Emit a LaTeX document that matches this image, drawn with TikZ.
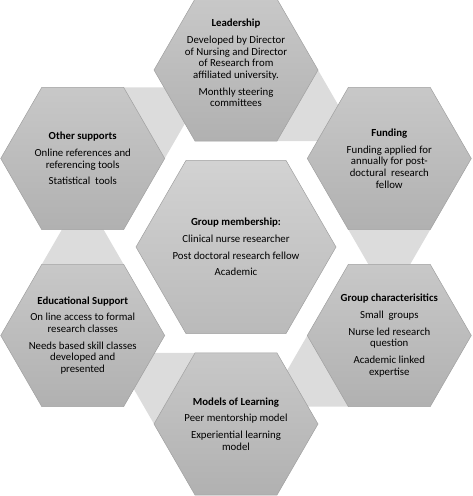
\documentclass[tikz,border=0pt]{standalone}
\usepackage{fontspec}
\setmainfont{Carlito}
\usetikzlibrary{shapes.geometric,calc}
\definecolor{hexgray}{HTML}{BABABA}
\definecolor{hexline}{HTML}{A0A0A0}
\definecolor{linkgray}{HTML}{DCDCDC}

\begin{document}
\begin{tikzpicture}[
  x=1pt, y=1pt,
  hexo/.style = {regular polygon, regular polygon sides=6,
                 minimum size=164pt, inner sep=0pt, outer sep=0pt,
                 draw=hexline, line width=0.5pt,
                 top color=hexgray!80!white, bottom color=hexgray!95!black},
  hub/.style  = {hexo, minimum size=200pt,
                 top color=hexgray!65!white, bottom color=hexgray},
  link/.style = {fill=linkgray},
  txt/.style  = {align=center, inner sep=0pt,
                 font=\fontsize{10.8}{11.7}\selectfont, text=black},
]
\useasboundingbox (0,0) rectangle (473,496);

% positions of the seven hexagons
\coordinate (c) at (236,249);
\coordinate (p1) at ($(c)+(90:177)$);
\coordinate (p2) at ($(c)+(30:177)$);
\coordinate (p3) at ($(c)+(-30:177)$);
\coordinate (p4) at ($(c)+(-90:177)$);
\coordinate (p5) at ($(c)+(-150:177)$);
\coordinate (p6) at ($(c)+(150:177)$);

% light connectors behind the ring
\fill[link] ($(p1)+(0:82)$)    -- ($(p1)+(-60:82)$)  -- ($(p1)+(-30:142)$)  -- cycle;
\fill[link] ($(p2)+(-60:82)$)  -- ($(p2)+(-120:82)$) -- ($(p2)+(-90:142)$)  -- cycle;
\fill[link] ($(p3)+(-120:82)$) -- ($(p3)+(180:82)$)  -- ($(p3)+(-150:142)$) -- cycle;
\fill[link] ($(p4)+(180:82)$)  -- ($(p4)+(120:82)$)  -- ($(p4)+(150:142)$)  -- cycle;
\fill[link] ($(p5)+(120:82)$)  -- ($(p5)+(60:82)$)   -- ($(p5)+(90:142)$)   -- cycle;
\fill[link] ($(p6)+(60:82)$)   -- ($(p6)+(0:82)$)    -- ($(p6)+(30:142)$)   -- cycle;

% hexagons
\node[hub]  (members) at (c)  {};
\node[hexo] (lead)    at (p1) {};
\node[hexo] (fund)    at (p2) {};
\node[hexo] (chars)   at (p3) {};
\node[hexo] (models)  at (p4) {};
\node[hexo] (edu)     at (p5) {};
\node[hexo] (other)   at (p6) {};

% texts
\node[txt] (memberstxt) at (members)
  {\textbf{Group membership:}\\[5pt]
   Clinical nurse researcher\\[5pt]
   Post doctoral research fellow\\[5pt]
   Academic};
\node[txt, yshift=7pt] (leadtxt) at (lead)
  {\textbf{Leadership}\\[5pt]
   Developed by Director\\ of Nursing and Director\\
   of Research from\\ affiliated university.\\[5pt]
   Monthly steering\\ committees};
\node[txt] (fundtxt) at (fund)
  {\textbf{Funding}\\[5pt]
   Funding applied for\\ annually for post-\\
   doctural~ research\\ fellow};
\node[txt] (charstxt) at (chars)
  {\textbf{Group characterisitics}\\[5pt]
   Small~ groups\\[5pt]
   Nurse led research\\ question\\[5pt]
   Academic linked\\ expertise};
\node[txt] (modelstxt) at (models)
  {\textbf{Models of Learning}\\[5pt]
   Peer mentorship model\\[5pt]
   Experiential learning\\ model};
\node[txt] (edutxt) at (edu)
  {\textbf{Educational Support}\\[5pt]
   On line access to formal\\ research classes\\[5pt]
   Needs based skill classes\\ developed and\\ presented};
\node[txt] (othertxt) at (other)
  {\textbf{Other supports}\\[5pt]
   Online references and\\ referencing tools\\[5pt]
   Statistical~ tools};
\end{tikzpicture}
\end{document}
